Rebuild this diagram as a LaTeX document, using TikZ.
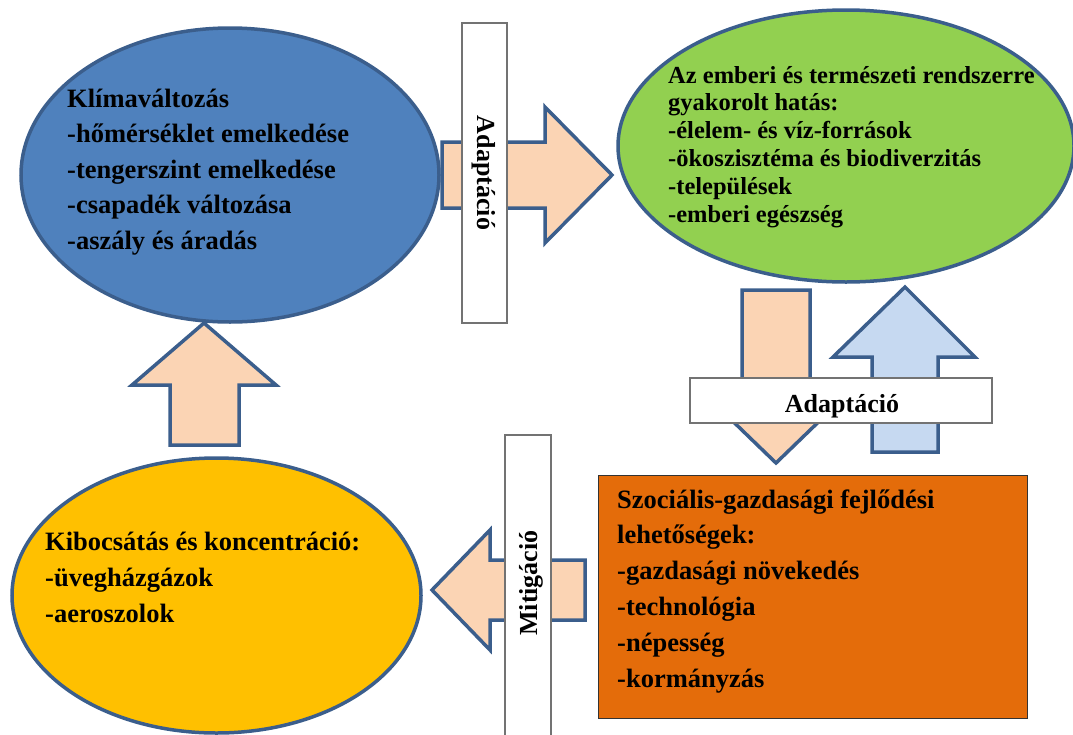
\documentclass[tikz,border=0pt]{standalone}
\usepackage{fontspec}
\setmainfont{Liberation Serif}
\usetikzlibrary{shapes.geometric}
\definecolor{edgeblue}{HTML}{3B5E8C}
\definecolor{peach}{HTML}{FBD4B4}
\definecolor{lightblue}{HTML}{C6D9F1}
\definecolor{climblue}{HTML}{4F81BD}
\definecolor{impgreen}{HTML}{92D050}
\definecolor{emyellow}{HTML}{FFC000}
\definecolor{socorange}{HTML}{E46C0A}
\tikzset{
  blockarrow/.style={draw=edgeblue, line width=3.5pt, line join=miter, fill=peach},
  blob/.style={ellipse, draw=edgeblue, line width=3.5pt, inner sep=0pt},
  labelbox/.style={draw=black!55, line width=1.2pt, fill=white},
  listtext/.style={anchor=base west, inner sep=0pt, font=\bfseries\fontsize{26.5}{35.5}\selectfont},
  tagtext/.style={inner sep=0pt, font=\bfseries\fontsize{26}{30}\selectfont}
}
\begin{document}
\begin{tikzpicture}[x=1pt,y=-1pt]
\useasboundingbox (0,0) rectangle (1073,734);
% ellipses and box
\node[blob, fill=climblue, minimum width=418pt, minimum height=294pt] (clima) at (230,175) {};
\node[blob, fill=impgreen, minimum width=456pt, minimum height=272pt] (impact) at (846,146) {};
\node[blob, fill=emyellow, minimum width=409pt, minimum height=275pt] (emis) at (216.5,595.5) {};
\draw[draw=black!80, line width=1pt, fill=socorange] (598,475) rectangle (1027,718);
\coordinate (socio) at (812.5,596.5);
% block arrows
\draw[blockarrow] (442,142) -- (545,142) -- (545,107) -- (612,175) -- (545,243) -- (545,208) -- (442,208) -- cycle;
\draw[blockarrow] (170,445) -- (170,385) -- (132,385) -- (204,323) -- (276,385) -- (239,385) -- (239,445) -- cycle;
\draw[blockarrow] (585,560) -- (490,560) -- (490,530) -- (432,590) -- (490,650) -- (490,620) -- (585,620) -- cycle;
\draw[blockarrow] (742,290) -- (810,290) -- (810,405) -- (836,405) -- (776,463) -- (716,405) -- (742,405) -- cycle;
\draw[blockarrow, fill=lightblue] (872,452) -- (872,357) -- (833,357) -- (905,287) -- (975,357) -- (938,357) -- (938,452) -- cycle;
% label boxes
\draw[labelbox] (462,23) rectangle (507,323);
\draw[labelbox] (690,378) rectangle (992,423);
\draw[labelbox] (505,435) rectangle (551,740);
\node[tagtext, rotate=-90] (adapt1) at (484,173) {Adaptáció};
\node[tagtext, anchor=base] (adapt2) at (842,412) {Adaptáció};
\node[tagtext, rotate=90] (mitig) at (531,583) {Mitigáció};
% texts
\node[listtext] (climatext) at (67,107) {\begin{tabular}[t]{@{}l@{}}Klímaváltozás\\-hőmérséklet emelkedése\\-tengerszint emelkedése\\-csapadék változása\\-aszály és áradás\end{tabular}};
\node[listtext, font=\bfseries\fontsize{24.5}{27.8}\selectfont] (impacttext) at (668,83) {\begin{tabular}[t]{@{}l@{}}Az emberi és természeti rendszerre\\gyakorolt hatás:\\-élelem- és víz-források\\-ökoszisztéma és biodiverzitás\\-települések\\-emberi egészség\end{tabular}};
\node[listtext, font=\bfseries\fontsize{26.5}{36}\selectfont] (emistext) at (45,550) {\begin{tabular}[t]{@{}l@{}}Kibocsátás és koncentráció:\\-üvegházgázok\\-aeroszolok\end{tabular}};
\node[listtext, font=\bfseries\fontsize{26.5}{35.8}\selectfont] (sociotext) at (617,508) {\begin{tabular}[t]{@{}l@{}}Szociális-gazdasági fejlődési\\lehetőségek:\\-gazdasági növekedés\\-technológia\\-népesség\\-kormányzás\end{tabular}};
\end{tikzpicture}
\end{document}
